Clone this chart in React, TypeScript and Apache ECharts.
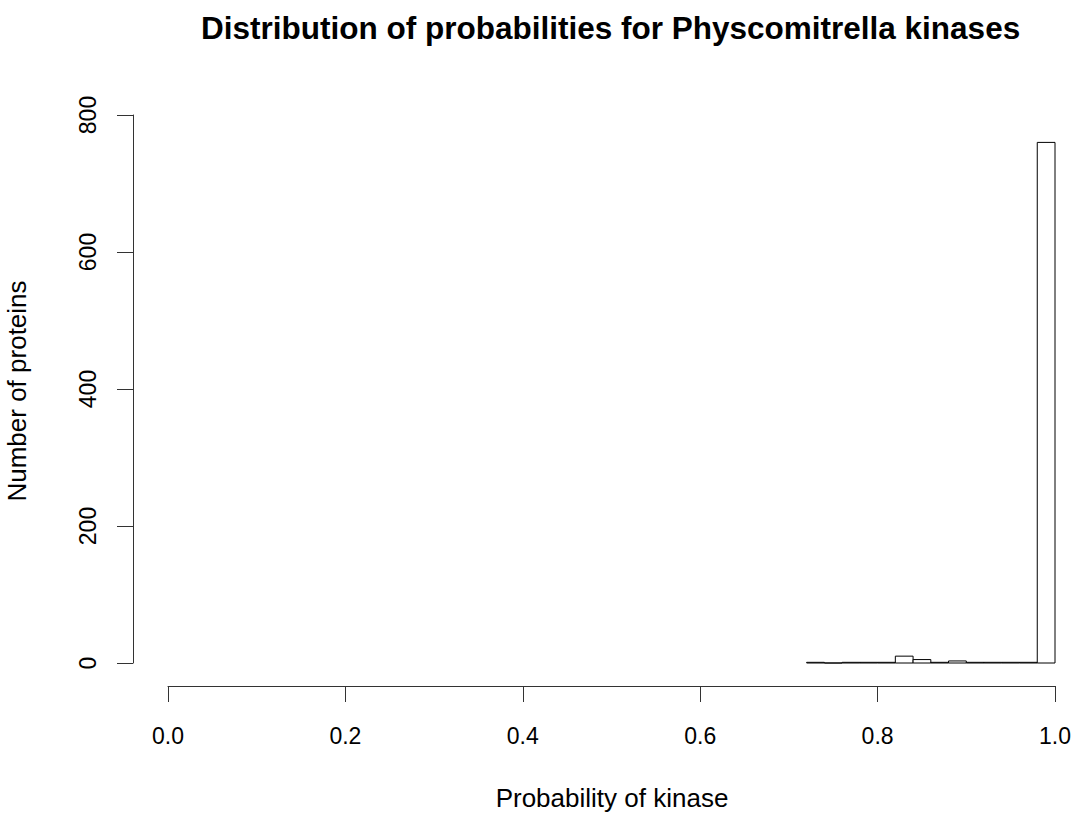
import React, { useEffect, useRef } from "react";
import * as echarts from "echarts";

// Histogram of predicted kinase probabilities (bins of width 0.02)
const binStarts = [0.72, 0.74, 0.76, 0.78, 0.8, 0.82, 0.84, 0.86, 0.88, 0.9, 0.92, 0.94, 0.96, 0.98];
const counts = [1, 0, 1, 1, 1, 10, 5, 1, 3, 1, 1, 1, 1, 760];
const binWidth = 0.02;
const xTicks = [0, 0.2, 0.4, 0.6, 0.8, 1.0];
const yTicks = [0, 200, 400, 600, 800];

const titleText = "Distribution of probabilities for Physcomitrella kinases";
const xTitle = "Probability of kinase";
const yTitle = "Number of proteins";

const FONT = "'Liberation Sans', Arial, Helvetica, sans-serif";

export default function App() {
  const ref = useRef<HTMLDivElement>(null);

  useEffect(() => {
    if (!ref.current) return;
    const chart = echarts.init(ref.current, null, { renderer: "svg" });
    const data = binStarts.map((s, i) => [s, s + binWidth, counts[i]]);

    chart.setOption({
      animation: false,
      backgroundColor: "#ffffff",
      title: {
        text: titleText,
        left: 196,
        top: 7,
        textStyle: { fontFamily: FONT, fontWeight: "bold", fontSize: 31.5, lineHeight: 31, color: "#000" },
      },
      grid: { left: 168, right: 21, top: 115, bottom: 151 },
      xAxis: {
        type: "value",
        min: xTicks[0],
        max: xTicks[xTicks.length - 1],
        interval: 0.2,
        offset: 23,
        splitLine: { show: false },
        axisLine: { show: true, onZero: false, lineStyle: { color: "#333", width: 1 } },
        axisTick: { show: true, length: 16, lineStyle: { color: "#333", width: 1 } },
        axisLabel: {
          margin: 38,
          fontFamily: FONT,
          fontSize: 23,
          lineHeight: 23,
          color: "#000",
          formatter: (v: number) => v.toFixed(1),
        },
      },
      yAxis: {
        type: "value",
        min: yTicks[0],
        max: yTicks[yTicks.length - 1],
        interval: 200,
        offset: 35,
        splitLine: { show: false },
        axisLine: { show: true, onZero: false, lineStyle: { color: "#333", width: 1 } },
        axisTick: { show: true, length: 16, lineStyle: { color: "#333", width: 1 } },
        axisLabel: {
          margin: 34,
          rotate: 90,
          fontFamily: FONT,
          fontSize: 23,
          lineHeight: 23,
          color: "#000",
        },
      },
      graphic: [
        {
          type: "text",
          x: 612,
          y: 798,
          style: {
            text: xTitle,
            fontFamily: FONT,
            fontSize: 26,
            fill: "#000",
            align: "center",
            verticalAlign: "middle",
          },
        },
        {
          type: "text",
          x: 17,
          y: 391,
          rotation: Math.PI / 2,
          style: {
            text: yTitle,
            fontFamily: FONT,
            fontSize: 26,
            fill: "#000",
            align: "center",
            verticalAlign: "middle",
          },
        },
      ],
      series: [
        {
          type: "custom",
          data,
          encode: { x: [0, 1], y: 2 },
          renderItem: (params: any, api: any) => {
            const x0 = api.value(0);
            const x1 = api.value(1);
            const y = api.value(2);
            const p0 = api.coord([x0, y]);
            const p1 = api.coord([x1, 0]);
            return {
              type: "rect",
              shape: { x: p0[0], y: p0[1], width: p1[0] - p0[0], height: p1[1] - p0[1] },
              style: { fill: "#ffffff", stroke: "#000000", lineWidth: 1 },
            };
          },
        },
      ],
    });

    return () => chart.dispose();
  }, []);

  return (
    <div
      ref={ref}
      style={{ position: "fixed", left: 0, top: 0, width: 1076, height: 814, background: "#fff" }}
    />
  );
}
